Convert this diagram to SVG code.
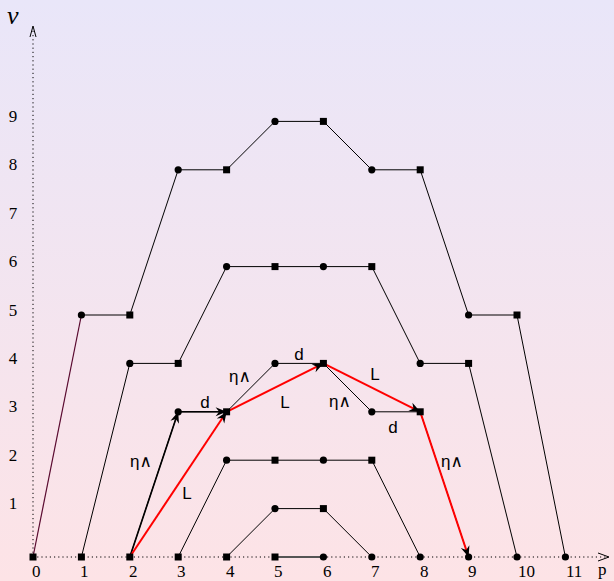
<svg xmlns="http://www.w3.org/2000/svg" width="614" height="581" viewBox="0 0 614 581">
<defs>
<linearGradient id="bg" x1="0" y1="0" x2="0" y2="1">
<stop offset="0" stop-color="#e9e6f9"/>
<stop offset="1" stop-color="#fde3e6"/>
</linearGradient>
<marker id="ah" markerUnits="userSpaceOnUse" markerWidth="14" markerHeight="12" viewBox="-12 -6 14 12" refX="0" refY="0" orient="auto">
<path d="M0,0 L-11,-4.5 L-7.5,0 L-11,4.5 Z" fill="#000"/>
</marker>
<style>
.ln{fill:none;stroke:#000;stroke-width:1}
.ax{fill:none;stroke:#000;stroke-width:1;stroke-dasharray:1.2 3}
.red{fill:none;stroke:#f00;stroke-width:2;marker-end:url(#ah)}
.blk{fill:none;stroke:#000;stroke-width:1.6;marker-end:url(#ah)}
.num{font-family:"Liberation Serif","Times New Roman",serif;font-size:17px;fill:#000}
.lab{font-family:"Liberation Sans","DejaVu Sans",sans-serif;font-size:17px;fill:#000;text-anchor:middle}
.nd circle,.nd rect{fill:#000}
</style>
</defs>
<rect x="0" y="0" width="614" height="581" fill="url(#bg)"/>
<g id="axes">
<line class="ax" x1="33" y1="557" x2="607" y2="557"/>
<path d="M598,553 L609,557 L598,561" fill="none" stroke="#000" stroke-width="1"/>
<line class="ax" x1="33" y1="557" x2="33" y2="29"/>
<path d="M30,37 L33,26 L36,37" fill="none" stroke="#000" stroke-width="1"/>
<text x="7" y="24" font-family="'Liberation Serif',serif" font-style="italic" font-size="26">ν</text>
<text x="598" y="575" class="num">p</text>
</g>
<g id="xlabels" class="num">
<text x="32" y="577">0</text>
<text x="80" y="577">1</text>
<text x="129" y="577">2</text>
<text x="177" y="577">3</text>
<text x="226" y="577">4</text>
<text x="274" y="577">5</text>
<text x="323" y="577">6</text>
<text x="371" y="577">7</text>
<text x="420" y="577">8</text>
<text x="468" y="577">9</text>
<text x="518" y="577">10</text>
<text x="566" y="577">11</text>
</g>
<g id="ylabels" class="num" text-anchor="middle">
<text x="13" y="509">1</text>
<text x="13" y="461">2</text>
<text x="13" y="412">3</text>
<text x="13" y="364">4</text>
<text x="13" y="316">5</text>
<text x="13" y="267">6</text>
<text x="13" y="219">7</text>
<text x="13" y="170">8</text>
<text x="13" y="122">9</text>
</g>
<g id="connectors">
<line x1="33" y1="557" x2="81.4" y2="315" stroke="#5a0a30" stroke-width="1.2"/>
<polyline class="ln" points="81.4,315 129.8,315 178.2,169.8 226.6,169.8 275,121.4 323.4,121.4 371.8,169.8 420.2,169.8 468.6,315 517,315 565.4,557"/>
<polyline class="ln" points="81.4,557 129.8,363.4 178.2,363.4 226.6,266.6 275,266.6 323.4,266.6 371.8,266.6 420.2,363.4 468.6,363.4 517,557"/>
<polyline class="ln" points="129.8,557 178.2,411.8 226.6,411.8 275,363.4 323.4,363.4 371.8,411.8 420.2,411.8 468.6,557"/>
<polyline class="ln" points="178.2,557 226.6,460.2 275,460.2 323.4,460.2 371.8,460.2 420.2,557"/>
<polyline class="ln" points="226.6,557 275,508.6 323.4,508.6 371.8,557"/>
<line x1="275" y1="557" x2="323.4" y2="557" stroke="#555" stroke-width="2"/>
<line class="blk" x1="129.8" y1="557" x2="178.2" y2="411.8"/>
<line class="blk" x1="178.2" y1="411.8" x2="226.6" y2="411.8"/>
<line class="red" x1="129.8" y1="557" x2="226.6" y2="411.8"/>
<line class="red" x1="226.6" y1="411.8" x2="323.4" y2="363.4"/>
<line class="red" x1="323.4" y1="363.4" x2="420.2" y2="411.8"/>
<line class="red" x1="420.2" y1="411.8" x2="468.6" y2="557"/>
</g>
<g id="edge-labels" class="lab">
<text x="141" y="467">η∧</text>
<text x="187" y="499">L</text>
<text x="205" y="408">d</text>
<text x="240" y="382">η∧</text>
<text x="299" y="360">d</text>
<text x="285" y="408">L</text>
<text x="340" y="407">η∧</text>
<text x="375" y="380">L</text>
<text x="393" y="433">d</text>
<text x="452" y="467">η∧</text>
</g>
<g class="nd">
<g id="n0_0"><rect x="29.5" y="553.5" width="7" height="7"/></g>
<g id="n1_0"><rect x="77.9" y="553.5" width="7" height="7"/></g>
<g id="n2_0"><rect x="126.3" y="553.5" width="7" height="7"/></g>
<g id="n3_0"><rect x="174.7" y="553.5" width="7" height="7"/></g>
<g id="n4_0"><rect x="223.1" y="553.5" width="7" height="7"/></g>
<g id="n5_0"><rect x="271.5" y="553.5" width="7" height="7"/></g>
<g id="n6_0"><circle cx="323.4" cy="557" r="3.6"/></g>
<g id="n7_0"><circle cx="371.8" cy="557" r="3.6"/></g>
<g id="n8_0"><circle cx="420.2" cy="557" r="3.6"/></g>
<g id="n9_0"><circle cx="468.6" cy="557" r="3.6"/></g>
<g id="n10_0"><circle cx="517" cy="557" r="3.6"/></g>
<g id="n11_0"><circle cx="565.4" cy="557" r="3.6"/></g>
<g id="n1_5"><circle cx="81.4" cy="315" r="3.6"/></g>
<g id="n2_5"><rect x="126.3" y="311.5" width="7" height="7"/></g>
<g id="n3_8"><circle cx="178.2" cy="169.8" r="3.6"/></g>
<g id="n4_8"><rect x="223.1" y="166.3" width="7" height="7"/></g>
<g id="n5_9"><circle cx="275" cy="121.4" r="3.6"/></g>
<g id="n6_9"><rect x="319.9" y="117.9" width="7" height="7"/></g>
<g id="n7_8"><circle cx="371.8" cy="169.8" r="3.6"/></g>
<g id="n8_8"><rect x="416.7" y="166.3" width="7" height="7"/></g>
<g id="n9_5"><circle cx="468.6" cy="315" r="3.6"/></g>
<g id="n10_5"><rect x="513.5" y="311.5" width="7" height="7"/></g>
<g id="n2_4"><circle cx="129.8" cy="363.4" r="3.6"/></g>
<g id="n3_4"><rect x="174.7" y="359.9" width="7" height="7"/></g>
<g id="n4_6"><circle cx="226.6" cy="266.6" r="3.6"/></g>
<g id="n5_6"><rect x="271.5" y="263.1" width="7" height="7"/></g>
<g id="n6_6"><circle cx="323.4" cy="266.6" r="3.6"/></g>
<g id="n7_6"><rect x="368.3" y="263.1" width="7" height="7"/></g>
<g id="n8_4"><circle cx="420.2" cy="363.4" r="3.6"/></g>
<g id="n9_4"><rect x="465.1" y="359.9" width="7" height="7"/></g>
<g id="n3_3"><circle cx="178.2" cy="411.8" r="3.6"/></g>
<g id="n4_3"><rect x="223.1" y="408.3" width="7" height="7"/></g>
<g id="n5_4"><circle cx="275" cy="363.4" r="3.6"/></g>
<g id="n6_4"><rect x="319.9" y="359.9" width="7" height="7"/></g>
<g id="n7_3"><circle cx="371.8" cy="411.8" r="3.6"/></g>
<g id="n8_3"><rect x="416.7" y="408.3" width="7" height="7"/></g>
<g id="n4_2"><circle cx="226.6" cy="460.2" r="3.6"/></g>
<g id="n5_2"><rect x="271.5" y="456.7" width="7" height="7"/></g>
<g id="n6_2"><circle cx="323.4" cy="460.2" r="3.6"/></g>
<g id="n7_2"><rect x="368.3" y="456.7" width="7" height="7"/></g>
<g id="n5_1"><circle cx="275" cy="508.6" r="3.6"/></g>
<g id="n6_1"><rect x="319.9" y="505.1" width="7" height="7"/></g>
</g>
</svg>
